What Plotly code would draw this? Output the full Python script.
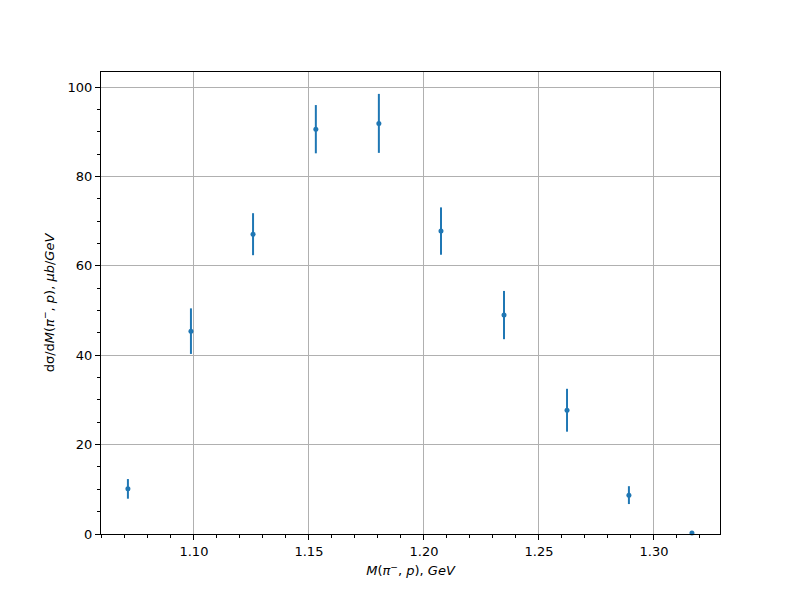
import plotly.graph_objects as go

mass = [1.0713, 1.0987, 1.1257, 1.1530, 1.1804, 1.2074, 1.2348, 1.2622, 1.2891, 1.3165]
xsec = [10.1, 45.4, 67.1, 90.6, 91.9, 67.8, 49.0, 27.7, 8.7, 0.2]
err = [2.2, 5.1, 4.7, 5.4, 6.6, 5.3, 5.4, 4.8, 2.0, 0.2]

fig = go.Figure()
fig.add_trace(go.Scatter(
    x=mass, y=xsec, mode="markers",
    marker=dict(color="#1f77b4", size=5),
    error_y=dict(type="data", array=err, color="#1f77b4", thickness=2, width=0),
    cliponaxis=False,
))

axis_common = dict(
    showline=True, linecolor="black", linewidth=1, mirror=True,
    ticks="outside", ticklen=5, tickwidth=1, tickcolor="black",
    showgrid=True, gridcolor="#b0b0b0", gridwidth=1, zeroline=False,
    tickfont=dict(family="DejaVu Sans", size=13, color="black"),
)

fig.update_layout(
    width=800, height=600,
    margin=dict(l=93, r=88, t=64, b=74),
    paper_bgcolor="white", plot_bgcolor="white",
    showlegend=False,
    font=dict(family="DejaVu Sans", size=13, color="black"),
    xaxis=dict(
        range=[1.0596, 1.3287], tickvals=[1.10, 1.15, 1.20, 1.25, 1.30],
        ticktext=["1.10", "1.15", "1.20", "1.25", "1.30"],
        minor=dict(ticks="outside", dtick=0.01, tick0=1.0, ticklen=3, tickcolor="black", showgrid=False),
        title=dict(text="<i>M</i>(<i>π</i><sup>−</sup>, <i>p</i>), <i>GeV</i>", font=dict(size=13), standoff=8),
        **axis_common,
    ),
    yaxis=dict(
        range=[0, 103.4], tickvals=[0, 20, 40, 60, 80, 100],
        minor=dict(ticks="outside", dtick=5, tick0=0, ticklen=3, tickcolor="black", showgrid=False),
        title=dict(text="dσ/d<i>M</i>(<i>π</i><sup>−</sup>, <i>p</i>), <i>μb</i>/<i>GeV</i>", font=dict(size=13), standoff=10),
        **axis_common,
    ),
)

fig.write_html("out.html")
